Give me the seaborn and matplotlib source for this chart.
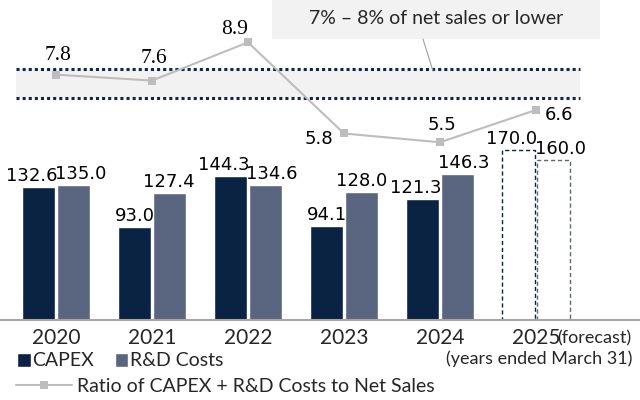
import numpy as np
import pandas as pd
import matplotlib
matplotlib.use("Agg")
import matplotlib.pyplot as plt
import seaborn as sns
from matplotlib.patches import Patch, Rectangle
from matplotlib.lines import Line2D

# Data (billion yen / %)
years = ["2020", "2021", "2022", "2023", "2024", "2025"]
capex = [132.6, 93.0, 144.3, 94.1, 121.3, 170.0]
rnd_costs = [135.0, 127.4, 134.6, 128.0, 146.3, 160.0]
ratio = [7.8, 7.6, 8.9, 5.8, 5.5, 6.6]
target_band = [7, 8]
forecast_year = "2025"

navy = "#0a2342"
slate = "#5a6580"
line_gray = "#bdbdbd"
light = "#f2f2f2"
dot_col = "#0d2846"

sns.set_style("white")
plt.rcParams["font.family"] = ["Lato", "DejaVu Sans"]

df = pd.DataFrame({
    "year": years * 2,
    "value": capex + rnd_costs,
    "kind": ["CAPEX"] * len(years) + ["R&D Costs"] * len(years),
})

fig = plt.figure(figsize=(6.4, 4), dpi=100)
ax = fig.add_axes([0, 0.2, 1, 0.8])
sns.barplot(data=df, x="year", y="value", hue="kind", palette=[navy, slate],
            width=0.72, gap=0.05, saturation=1, errorbar=None, legend=False, ax=ax)

# forecast bars: dashed outline only, labels pushed apart when close
fi = years.index(forecast_year)
for k, (cont, col) in enumerate(zip(ax.containers, [navy, slate])):
    bar = cont.patches[fi]
    bar.set_facecolor("none")
    bar.set_edgecolor(col)
    bar.set_linestyle((0, (3, 2)))
    bar.set_linewidth(1)
    for i, b in enumerate(cont.patches):
        close = abs(capex[i] - rnd_costs[i]) < 30
        dx = (-5 if k == 0 else 5) if close else 0
        ax.annotate(f"{b.get_height():.1f}", (b.get_x() + b.get_width() / 2, b.get_height()),
                    xytext=(dx, 1.5), textcoords="offset points", ha="center", va="bottom",
                    fontsize=13, family="DejaVu Sans", color="black")

ax.set_ylim(0, 320)
ax.set_xlabel("")
ax.set_ylabel("")
ax.set_yticks([])
ax.tick_params(axis="x", length=0, pad=6, labelsize=15)
for s in ["top", "left", "right"]:
    ax.spines[s].set_visible(False)
ax.spines["bottom"].set_color("#a6a6a6")
ax.spines["bottom"].set_linewidth(1.5)
ax.annotate("(forecast)", (fi, 0), xycoords=("data", "axes fraction"), xytext=(15, -13),
            textcoords="offset points", ha="left", va="center", fontsize=13)

# ratio line on twin axis
ax2 = ax.twinx()
x0, x1 = 16 / 640, 580 / 640
ax2.axhspan(target_band[0], target_band[1], xmin=x0, xmax=x1, color=light, lw=0, zorder=1)
for v in target_band:
    ax2.axhline(v, xmin=x0, xmax=x1, color=dot_col, lw=2.2, linestyle=(0, (1, 1)), zorder=2)
sns.lineplot(x=np.arange(len(years)), y=ratio, ax=ax2, color=line_gray, lw=1.5,
             marker="s", markersize=5.5, markeredgewidth=0, zorder=3)

lbl_offsets = [(1.4, 13.7), (1.4, 15.8), (-10, 9.4), (-18, -4.3), (1.4, 12.2), (16.6, -3.8)]
lbl_fonts = ["Liberation Serif"] * 3 + ["DejaVu Sans"] * 3
lbl_sizes = [15.5] * 3 + [13] * 3
for i, (v, off, fam, fs) in enumerate(zip(ratio, lbl_offsets, lbl_fonts, lbl_sizes)):
    ax2.annotate(f"{v:.1f}", (i, v), xytext=off, textcoords="offset points",
                 ha="center", va="center", fontsize=fs, family=fam, color="black")

ax2.set_ylim(-0.544, 10.34)
ax2.set_yticks([])
ax2.set_ylabel("")
for s in ax2.spines.values():
    s.set_visible(False)
ax.set_xlim(-0.5833, 6.0833)

# target call-out box
fig.patches.append(Rectangle((272 / 640, 1 - 39 / 400), 328 / 640, 39 / 400,
                             transform=fig.transFigure, color=light, lw=0, zorder=1))
fig.lines.append(Line2D([423 / 640, 433 / 640], [1 - 39 / 400, 1 - 71 / 400],
                        transform=fig.transFigure, color="#a0a0a0", lw=0.8))
fig.text(436 / 640, 1 - 18 / 400, "7% – 8% of net sales or lower", ha="center", va="center",
         fontsize=14, zorder=3)

# legends
h1 = [Patch(facecolor=navy, label="CAPEX"), Patch(facecolor=slate, label="R&D Costs")]
fig.legend(handles=h1, loc="center left", bbox_to_anchor=(17 / 640, 1 - 361 / 400), ncol=2,
           frameon=False, fontsize=14, handlelength=0.7, handleheight=0.7, handletextpad=0.1,
           columnspacing=1.05, borderpad=0, borderaxespad=0)
h2 = [Line2D([], [], color=line_gray, lw=1.5, marker="s", markersize=5.5, markeredgewidth=0,
             label="Ratio of CAPEX + R&D Costs to Net Sales")]
fig.legend(handles=h2, loc="center left", bbox_to_anchor=(16 / 640, 1 - 386 / 400), frameon=False,
           fontsize=14, handlelength=2.9, handletextpad=0.25, borderpad=0, borderaxespad=0)
fig.text(632 / 640, 1 - 359 / 400, "(years ended March 31)", ha="right", va="center", fontsize=13)

fig.savefig("out.png", dpi=100)
